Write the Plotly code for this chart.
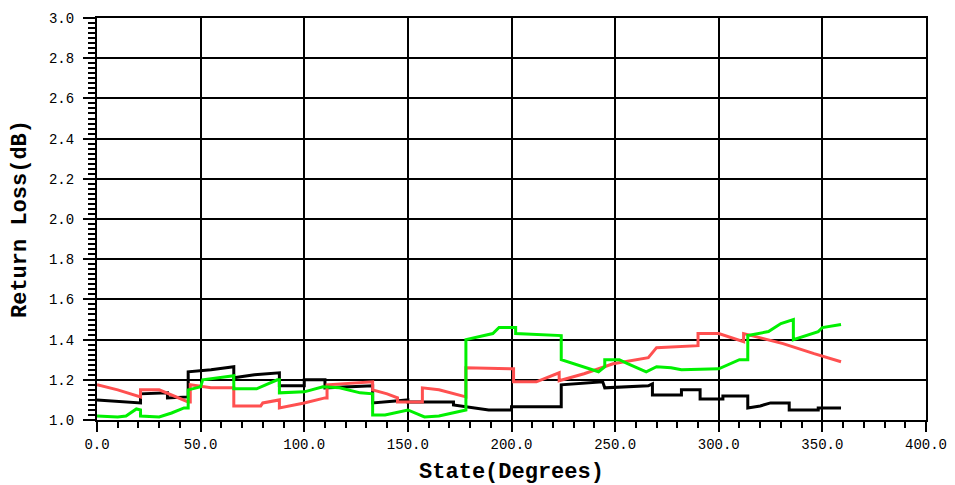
import plotly.graph_objects as go

# ---- data ----
black_x = [0, 20, 21, 21, 34, 34, 44, 44, 55, 66, 66, 76, 88, 88, 100, 100, 110, 110, 133, 133,
           140, 150, 150, 172, 172, 178, 189, 200, 200, 224, 224, 244, 245, 266, 268, 268, 282, 282,
           291, 291, 302, 302, 314, 314, 320, 325, 334, 334, 348, 348, 359]
black_y = [1.10, 1.085, 1.085, 1.13, 1.135, 1.11, 1.115, 1.24, 1.25, 1.265, 1.21, 1.225, 1.235, 1.17,
           1.17, 1.20, 1.20, 1.16, 1.17, 1.085, 1.09, 1.10, 1.09, 1.09, 1.075, 1.066, 1.05, 1.05, 1.066,
           1.066, 1.175, 1.19, 1.16, 1.17, 1.18, 1.125, 1.125, 1.15, 1.15, 1.105, 1.105, 1.12, 1.12,
           1.06, 1.07, 1.085, 1.085, 1.05, 1.05, 1.06, 1.06]

red_x = [0, 10, 21, 21, 30, 37, 44, 45, 45, 55, 66, 66, 79, 80, 88, 88, 100, 110, 111, 111, 130, 133,
         133, 140, 145, 145, 157, 157, 165, 177, 178, 178, 200, 201, 201, 212, 223, 223, 235, 249, 266,
         269, 270, 290, 290, 300, 312, 312, 331, 346, 359]
red_y = [1.175, 1.15, 1.115, 1.15, 1.15, 1.12, 1.09, 1.09, 1.175, 1.16, 1.16, 1.07, 1.07, 1.085, 1.10,
         1.06, 1.085, 1.11, 1.11, 1.175, 1.19, 1.19, 1.15, 1.13, 1.11, 1.09, 1.09, 1.16, 1.15, 1.115,
         1.115, 1.26, 1.255, 1.255, 1.19, 1.19, 1.235, 1.195, 1.23, 1.28, 1.31, 1.35, 1.36, 1.37, 1.43,
         1.43, 1.39, 1.43, 1.38, 1.33, 1.29]

green_x = [0, 10, 14, 19, 21, 21, 30, 36, 42, 44, 44, 50, 51, 66, 66, 77, 87, 88, 88, 100, 109, 117,
           127, 133, 133, 139, 150, 158, 165, 177, 178, 178, 191, 194, 202, 202, 223, 224, 224, 242,
           245, 245, 252, 256, 265, 270, 277, 282, 300, 310, 314, 314, 324, 330, 336, 336, 348, 350, 359]
green_y = [1.02, 1.015, 1.02, 1.055, 1.05, 1.02, 1.015, 1.035, 1.06, 1.06, 1.15, 1.165, 1.20, 1.22,
           1.155, 1.155, 1.20, 1.20, 1.135, 1.14, 1.165, 1.16, 1.135, 1.13, 1.025, 1.025, 1.05, 1.015,
           1.02, 1.05, 1.05, 1.40, 1.43, 1.46, 1.46, 1.43, 1.42, 1.42, 1.30, 1.24, 1.265, 1.30, 1.30,
           1.28, 1.24, 1.265, 1.26, 1.25, 1.255, 1.30, 1.30, 1.42, 1.44, 1.48, 1.50, 1.40, 1.44, 1.46, 1.475]

x_title = "State(Degrees)"
y_title = "Return Loss(dB)"

fig = go.Figure()
for xs, ys, col in [(black_x, black_y, "#000000"),
                    (red_x, red_y, "#FF5050"),
                    (green_x, green_y, "#00F000")]:
    fig.add_trace(go.Scatter(x=xs, y=ys, mode="lines",
                             line=dict(color=col, width=3), showlegend=False,
                             hoverinfo="skip"))

tick_font = dict(family="Liberation Mono", size=14, color="#000000")
title_font = dict(family="Liberation Mono", size=22, color="#000000")

# the page body adds an 8px offset, so margins are compensated
fig.update_layout(
    width=955, height=477,
    margin=dict(l=89, r=37, t=10, b=65),
    paper_bgcolor="white", plot_bgcolor="white",
    xaxis=dict(
        range=[0, 400], dtick=50, tick0=0, tickformat=".1f", automargin=False,
        showgrid=True, gridcolor="#000000", gridwidth=1.5,
        showline=True, linecolor="#000000", linewidth=2, mirror=True,
        ticks="outside", ticklen=10, tickwidth=1.5, tickcolor="#000000",
        minor=dict(dtick=10, ticks="outside", ticklen=6, tickwidth=1.5,
                   tickcolor="#000000", showgrid=False),
        tickfont=tick_font, zeroline=False,
        title=dict(text="<b>" + x_title + "</b>", font=title_font, standoff=13),
    ),
    yaxis=dict(
        range=[1.0, 3.0], dtick=0.2, tick0=1.0, tickformat=".1f", automargin=False,
        showgrid=True, gridcolor="#000000", gridwidth=1.5,
        showline=True, linecolor="#000000", linewidth=2, mirror=True,
        ticks="outside", ticklen=12, tickwidth=1.5, tickcolor="#000000",
        minor=dict(dtick=0.025, ticks="outside", ticklen=7, tickwidth=1.5,
                   tickcolor="#000000", showgrid=False),
        tickfont=tick_font, zeroline=False, ticklabelstandoff=6,
        title=dict(text="<b>" + y_title + "</b>", font=title_font, standoff=16),
    ),
)

fig.write_html("out.html")
